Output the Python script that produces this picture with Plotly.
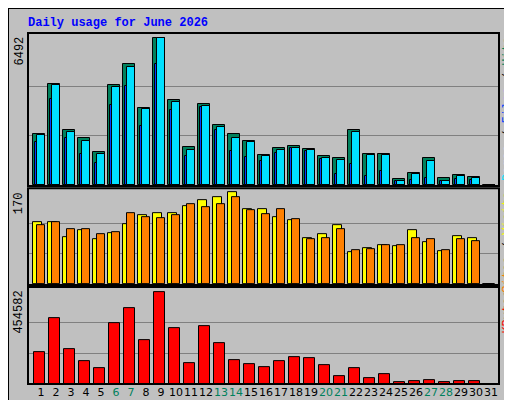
import plotly.graph_objects as go

# values
days = list(range(1, 32))
hits = [2226, 4434, 2402, 2049, 1431, 4390, 5317, 3387, 6492, 3727, 1652, 3550, 2623, 2226, 1917, 1312,
        1621, 1696, 1563, 1254, 1166, 2402, 1342, 1342, 238, 503, 1166, 283, 415, 327, 0]
pages = [2195, 4390, 2314, 1917, 1356, 4301, 5184, 3330, 6465, 3639, 1519, 3462, 2535, 2049, 1872, 1254,
         1519, 1607, 1519, 1166, 1078, 2314, 1298, 1298, 150, 459, 1033, 150, 371, 283, 0]
files = [1872, 3785, 2062, 1356, 958, 3520, 4345, 2592, 5317, 3285, 1254, 3431, 2416, 1475, 1223, 1033,
         1400, 1621, 1475, 1122, 459, 914, 371, 592, 150, 194, 283, 150, 238, 194, 0]
sites = [115, 116, 87, 100, 83, 94, 111, 128, 131, 131, 144, 155, 161, 170, 140, 139,
         124, 118, 85, 92, 109, 59, 67, 72, 70, 100, 78, 61, 89, 85, 0]
visits = [109, 115, 102, 102, 92, 96, 131, 124, 122, 128, 148, 142, 148, 161, 137, 129,
          140, 120, 83, 85, 102, 63, 65, 72, 72, 85, 83, 63, 83, 80, 0]
kbytes = [155900, 325000, 172400, 112700, 77900, 301800, 376400, 217200, 454582, 276900, 102800,
          286800, 202300, 117700, 97800, 82900, 112700, 132600, 127700, 92800, 38100, 77900,
          28200, 48100, 6600, 13300, 18200, 6600, 13300, 13300, 0]
weekend = [6, 7, 13, 14, 20, 21, 27, 28]

GREEN, BLUE, CYAN = "#00805C", "#0040FF", "#00E0FF"
YELLOW, ORANGE, RED = "#FFFF00", "#FF8000", "#FF0000"
MONO = "Liberation Mono"

fig = go.Figure()


def bars(y, color, base, width, axis):
    fig.add_trace(go.Bar(x=days, y=y, offset=base, width=width, yaxis=axis,
                         marker=dict(color=color, line=dict(color="black", width=1)),
                         showlegend=False))


bars(hits, GREEN, -0.533, 0.8, "y")
bars(files, BLUE, -0.4, 0.667, "y")
bars(pages, CYAN, -0.267, 0.533, "y")
bars(sites, YELLOW, -0.51, 0.56, "y2")
bars(visits, ORANGE, -0.29, 0.53, "y2")
bars(kbytes, RED, -0.44, 0.69, "y3")

ticktext = [f"<span style='color:{GREEN}'>{d}</span>" if d in weekend else str(d) for d in days]

grid = dict(showgrid=True, gridcolor="#808080", gridwidth=1, showticklabels=False,
            zeroline=False, ticks="", automargin=False)
fig.update_layout(
    width=512, height=400, margin=dict(l=20, r=21, t=25, b=24, autoexpand=False),
    paper_bgcolor="#C0C0C0", plot_bgcolor="#C0C0C0", barmode="overlay", bargap=0,
    xaxis=dict(range=[0.133, 31.533], tickvals=days, ticktext=ticktext, showgrid=False,
               anchor="y3", tickangle=0, automargin=False, zeroline=False, ticks="",
               ticklen=0, tickfont=dict(family="DejaVu Sans", size=11, color="black")),
    yaxis=dict(domain=[0.564, 1], range=[-57, 6699],
               tickvals=[max(hits) / 3, 2 * max(hits) / 3], **grid),
    yaxis2=dict(domain=[0.282, 0.558], range=[-1.3, 178],
                tickvals=[max(sites) / 3, 2 * max(sites) / 3], **grid),
    yaxis3=dict(domain=[0, 0.276], range=[-1500, 480900],
                tickvals=[max(kbytes) / 3, 2 * max(kbytes) / 3], **grid),
    font=dict(family=MONO),
)

# panel borders
px = 1 / 471
for lo, hi in [(0.564, 1), (0.282, 0.558), (0, 0.276)]:
    fig.add_shape(type="rect", xref="paper", yref="paper", x0=0, x1=1, y0=lo, y1=hi,
                  line=dict(color="black", width=2))
# outer frame
fig.add_shape(type="rect", xref="paper", yref="paper", x0=-20 * px, x1=(491 + 20) / 471,
              y0=-24 / 351, y1=(351 + 25) / 351, line=dict(color="black", width=2), layer="below")
fig.add_shape(type="line", xref="paper", yref="paper", x0=(507 - 20) / 471, x1=(507 - 20) / 471,
              y0=-20 / 351, y1=(351 + 20) / 351, line=dict(color="#808080", width=6))
fig.add_shape(type="line", xref="paper", yref="paper", x0=-16 * px, x1=(507 - 20) / 471,
              y0=-20 / 351, y1=-20 / 351, line=dict(color="#808080", width=6))

fig.add_annotation(text="<b>Daily usage for June 2026</b>", xref="paper", yref="paper",
                   x=-2 * px, y=(351 + 10) / 351, xanchor="left", yanchor="middle", showarrow=False,
                   font=dict(family=MONO, size=12, color="#0000FF"))

for text, ytop in [(str(max(hits)), 1), (str(max(sites)), 0.558), (str(max(kbytes)), 0.276)]:
    fig.add_annotation(text=text, xref="paper", yref="paper", x=-9 * px, y=ytop - 2 / 351,
                       xanchor="center", yanchor="top", textangle=-90, showarrow=False,
                       font=dict(family=MONO, size=12, color="black"))

right = [
    (f"<span style='color:{CYAN}'>Pages</span> / <span style='color:{BLUE}'>Files</span>"
     f" / <span style='color:{GREEN}'>Hits</span>", 1),
    (f"<span style='color:{ORANGE}'>Sites</span> / <span style='color:{YELLOW}'>Visits</span>", 0.558),
    (f"<span style='color:{RED}'>KBytes</span>", 0.276),
]
for text, ytop in right:
    fig.add_annotation(text=text, xref="paper", yref="paper", x=1 + 9 * px, y=ytop - 2 / 351,
                       xanchor="center", yanchor="top", textangle=-90, showarrow=False,
                       font=dict(family=MONO, size=12, color="black"))

fig.write_html("out.html")
